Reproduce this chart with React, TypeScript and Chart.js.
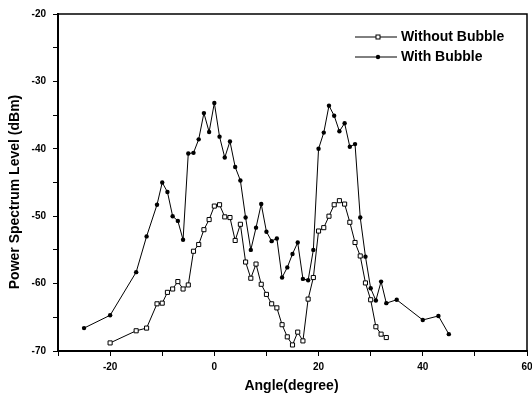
import React, { useEffect, useRef } from 'react';
import { Chart, registerables } from 'chart.js';

Chart.register(...registerables);

const angleWithout = [-20, -15, -13, -11, -10, -9, -8, -7, -6, -5, -4, -3, -2, -1, 0, 1, 2, 3, 4, 5, 6, 7, 8, 9, 10, 11, 12, 13, 14, 15, 16, 17, 18, 19, 20, 21, 22, 23, 24, 25, 26, 27, 28, 29, 30, 31, 32, 33];
const levelWithout = [-68.8, -67.0, -66.6, -63.0, -62.9, -61.3, -60.8, -59.7, -60.8, -60.2, -55.2, -54.2, -52.0, -50.5, -48.5, -48.3, -50.1, -50.2, -53.6, -51.2, -56.8, -59.2, -57.1, -60.1, -61.6, -63.0, -63.6, -66.1, -67.9, -69.1, -67.2, -68.5, -62.3, -59.1, -52.2, -51.7, -50.0, -48.3, -47.7, -48.2, -50.9, -53.9, -55.9, -59.9, -62.4, -66.4, -67.5, -68.0];

const angleWith = [-25, -20, -15, -13, -11, -10, -9, -8, -7, -6, -5, -4, -3, -2, -1, 0, 1, 2, 3, 4, 5, 6, 7, 8, 9, 10, 11, 12, 13, 14, 15, 16, 17, 18, 19, 20, 21, 22, 23, 24, 25, 26, 27, 28, 29, 30, 31, 32, 33, 35, 40, 43, 45];
const levelWith = [-66.6, -64.7, -58.3, -53.0, -48.3, -45.0, -46.4, -50.0, -50.7, -53.5, -40.7, -40.6, -38.6, -34.7, -37.5, -33.2, -38.2, -41.3, -38.9, -42.7, -44.7, -50.2, -55.0, -51.7, -48.2, -52.3, -53.7, -53.3, -59.1, -57.6, -55.6, -53.9, -59.3, -59.5, -55.0, -40.0, -37.6, -33.6, -35.1, -37.4, -36.2, -39.7, -39.3, -50.2, -56.0, -60.7, -62.5, -59.7, -62.9, -62.4, -65.4, -64.8, -67.5];

const xTickLabels = [-20, 0, 20, 40, 60];
const yTickLabels = [-20, -30, -40, -50, -60, -70];

const seriesNames = ['Without Bubble', 'With Bubble'];
const xTitle = 'Angle(degree)';
const yTitle = 'Power Spectrum Level (dBm)';

const FONT = '"Liberation Sans", Arial, sans-serif';

const framePlugin = {
  id: 'frameLegendTitles',
  afterDraw(chart: any) {
    const { ctx, chartArea: a } = chart;
    ctx.save();
    ctx.strokeStyle = '#000';
    ctx.fillStyle = '#000';
    ctx.lineWidth = 1.5;
    ctx.beginPath();
    ctx.moveTo(a.left, a.top);
    ctx.lineTo(a.right, a.top);
    ctx.lineTo(a.right, a.bottom);
    ctx.stroke();

    // legend
    chart.data.datasets.forEach((ds: any, i: number) => {
      const y = a.top + 23 + i * 20;
      const x0 = a.right - 172;
      const x1 = a.right - 130;
      ctx.lineWidth = 1;
      ctx.strokeStyle = '#000';
      ctx.beginPath();
      ctx.moveTo(x0, y);
      ctx.lineTo(x1, y);
      ctx.stroke();
      const cx = (x0 + x1) / 2 + 2;
      if (ds.pointStyle === 'rect') {
        ctx.fillStyle = '#fff';
        ctx.fillRect(cx - 2, y - 2, 4, 4);
        ctx.strokeRect(cx - 2, y - 2, 4, 4);
      } else {
        ctx.fillStyle = '#000';
        ctx.beginPath();
        ctx.arc(cx, y, 2.2, 0, Math.PI * 2);
        ctx.fill();
      }
      ctx.fillStyle = '#000';
      ctx.font = `bold 14px ${FONT}`;
      ctx.textAlign = 'left';
      ctx.textBaseline = 'middle';
      ctx.fillText(ds.label, x1 + 4, y);
    });

    // axis titles
    ctx.font = `bold 14px ${FONT}`;
    ctx.textAlign = 'center';
    ctx.textBaseline = 'middle';
    ctx.fillText(xTitle, (a.left + a.right) / 2 - 1, a.bottom + 35);
    ctx.save();
    ctx.translate(15, a.top + 178);
    ctx.rotate(-Math.PI / 2);
    ctx.fillText(yTitle, 0, 0);
    ctx.restore();
    ctx.restore();
  },
};

export default function App() {
  const ref = useRef<HTMLCanvasElement | null>(null);
  useEffect(() => {
    if (!ref.current) return;
    const chart = new Chart(ref.current, {
      type: 'scatter',
      data: {
        datasets: [
          {
            label: seriesNames[0],
            data: angleWithout.map((x, i) => ({ x, y: levelWithout[i] })),
            showLine: true,
            borderColor: '#000',
            borderWidth: 1,
            pointStyle: 'rect',
            pointRadius: 2.9,
            pointBackgroundColor: '#fff',
            pointBorderColor: '#000',
            pointBorderWidth: 1,
            tension: 0,
          },
          {
            label: seriesNames[1],
            data: angleWith.map((x, i) => ({ x, y: levelWith[i] })),
            showLine: true,
            borderColor: '#000',
            borderWidth: 1,
            pointStyle: 'circle',
            pointRadius: 2.2,
            pointBackgroundColor: '#000',
            pointBorderColor: '#000',
            pointBorderWidth: 0,
            tension: 0,
          },
        ],
      },
      options: {
        responsive: false,
        animation: false,
        events: [],
        layout: { padding: { top: 14, right: 5, left: 0, bottom: 0 } },
        plugins: { legend: { display: false }, tooltip: { enabled: false } },
        scales: {
          x: {
            type: 'linear',
            min: -30,
            max: 60,
            afterFit: (s: any) => { s.height = 45; s.paddingLeft = 0; s.paddingRight = 0; },
            grid: { display: true, drawOnChartArea: false, drawTicks: true, tickLength: 5, color: '#000' },
            border: { display: true, color: '#000', width: 2 },
            ticks: {
              stepSize: 10,
              autoSkip: false,
              maxRotation: 0,
              padding: 5,
              color: '#000',
              font: { family: FONT, size: 10, weight: 'bold' },
              callback: (v: any) => (xTickLabels.includes(Number(v)) ? String(v) : ''),
            },
          },
          y: {
            type: 'linear',
            min: -70,
            max: -20,
            afterFit: (s: any) => { s.width = 58; s.paddingTop = 0; s.paddingBottom = 0; },
            grid: { display: true, drawOnChartArea: false, drawTicks: true, tickLength: 5, color: '#000' },
            border: { display: true, color: '#000', width: 2 },
            ticks: {
              stepSize: 5,
              autoSkip: false,
              padding: 7,
              color: '#000',
              font: { family: FONT, size: 10, weight: 'bold' },
              callback: (v: any) => (yTickLabels.includes(Number(v)) ? String(v) : ''),
            },
          },
        },
      },
      plugins: [framePlugin],
    } as any);
    return () => chart.destroy();
  }, []);
  return (
    <div style={{ position: 'fixed', left: 0, top: 0, width: 532, height: 396, background: '#fff' }}>
      <canvas ref={ref} width={532} height={396} style={{ display: 'block', width: 532, height: 396 }} />
    </div>
  );
}
